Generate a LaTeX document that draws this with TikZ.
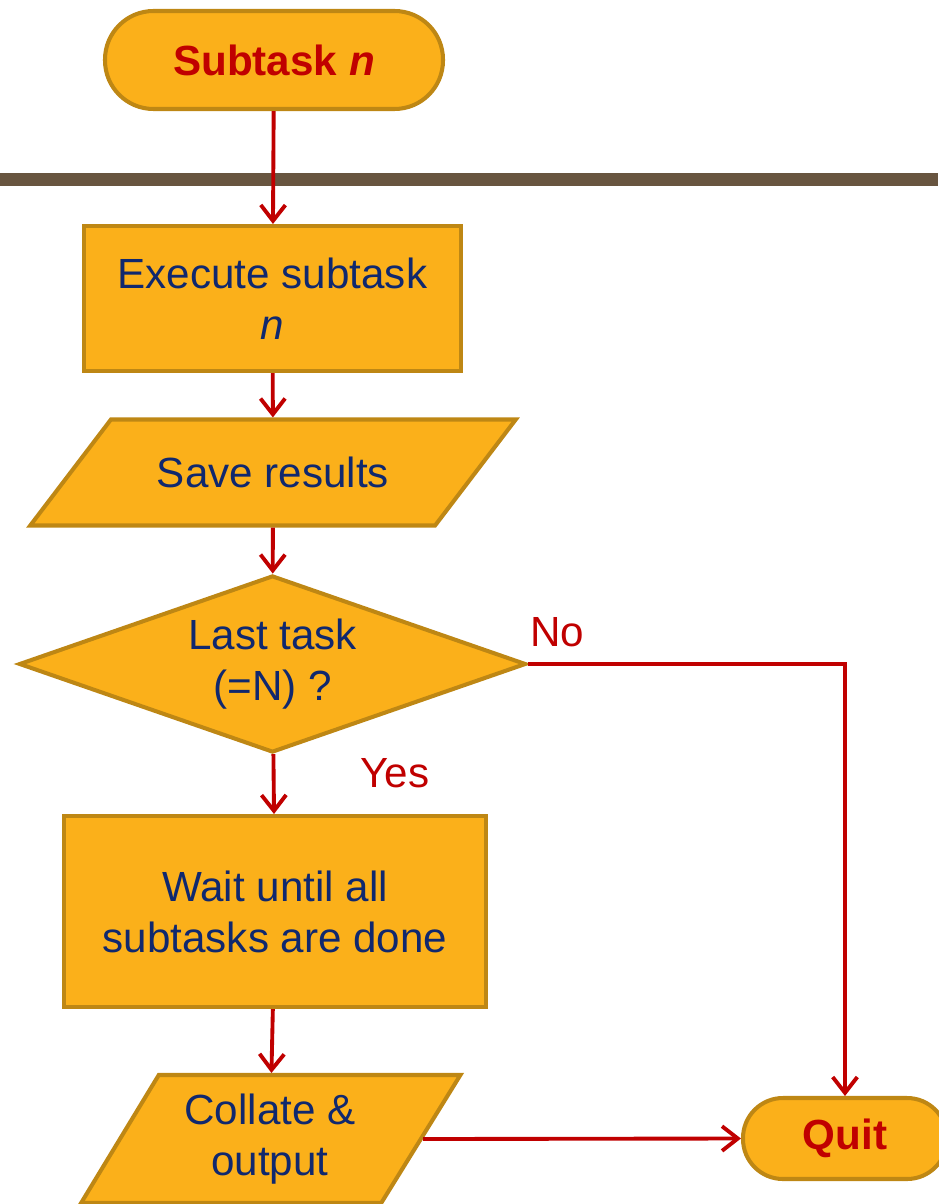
\documentclass[tikz,border=0pt]{standalone}
\usepackage{fontspec}
\setmainfont{Liberation Sans}
\usepackage{xcolor}
\usepackage{tikz}
\usetikzlibrary{shapes.geometric,arrows.meta,calc}
\definecolor{boxfill}{RGB}{251,176,26}
\definecolor{boxedge}{RGB}{190,135,20}
\definecolor{textblue}{RGB}{16,40,110}
\definecolor{flowred}{RGB}{192,0,0}
\definecolor{barbrown}{RGB}{104,85,64}

\begin{document}
\begin{tikzpicture}[
    every node/.style={font=\fontsize{24}{29}\selectfont, align=center},
    base/.style={fill=boxfill, draw=boxedge, line width=2.3pt, inner sep=0pt, text=textblue},
    terminal/.style={base, rectangle, text=flowred, font=\fontsize{24}{29}\selectfont\bfseries},
    process/.style={base, rectangle},
    iobox/.style={base, trapezium, trapezium stretches=true},
    decision/.style={base, diamond},
    flow/.style={flowred, line width=2.2pt, -{Straight Barb[length=9pt,width=14pt]}},
    answer/.style={text=flowred}
  ]

    \useasboundingbox (0,0) rectangle (18.76,-24.08);

    %% divider bar
    \fill[barbrown] (0,-3.46) rectangle (18.76,-3.72);

    %% main column
    \node[terminal, minimum width=6.76cm, minimum height=1.96cm, rounded corners=0.97cm]
      (start) at (5.48,-1.2) {Subtask \textit{n}};

    \node[process, minimum width=7.54cm, minimum height=2.9cm]
      (exec) at (5.45,-5.97) {Execute subtask\\\textit{n}};

    \node[iobox, trapezium left angle=28.2, trapezium right angle=151.8,
          minimum width=9.72cm, minimum height=2.12cm]
      (save) at (5.46,-9.45) {Save results};

    \node[decision, aspect=2.84, minimum width=10.14cm, minimum height=3.54cm]
      (last) at (5.45,-13.28) {Last task\\(=N) ?};

    \node[process, minimum width=8.44cm, minimum height=3.82cm]
      (wait) at (5.5,-18.23) {Wait until all\\subtasks are done};

    \node[iobox, trapezium left angle=56.5, trapezium right angle=124,
          minimum width=7.6cm, minimum height=2.56cm]
      (collate) at (5.4,-22.78) {Collate \&\\output};

    \node[terminal, minimum width=4.08cm, minimum height=1.62cm, rounded corners=0.8cm]
      (quit) at (16.9,-22.77) {Quit};

    %% branch labels
    \node[answer] (lblno) at (11.14,-12.64) {No};
    \node[answer] (lblyes) at (7.9,-15.46) {Yes};

    %% connectors
    \coordinate (turn) at (last.east -| quit.north);

    \draw[flow] (start) -- (exec);
    \draw[flow] (exec) -- (save);
    \draw[flow] (save) -- (last);
    \draw[flow] (last) -- (wait);
    \draw[flow] (wait) -- (collate);
    \draw[flow] (collate.east) -- (quit.west);
    \draw[flow] (last.east) -- (turn) -- (quit.north);

  \end{tikzpicture}
\end{document}
